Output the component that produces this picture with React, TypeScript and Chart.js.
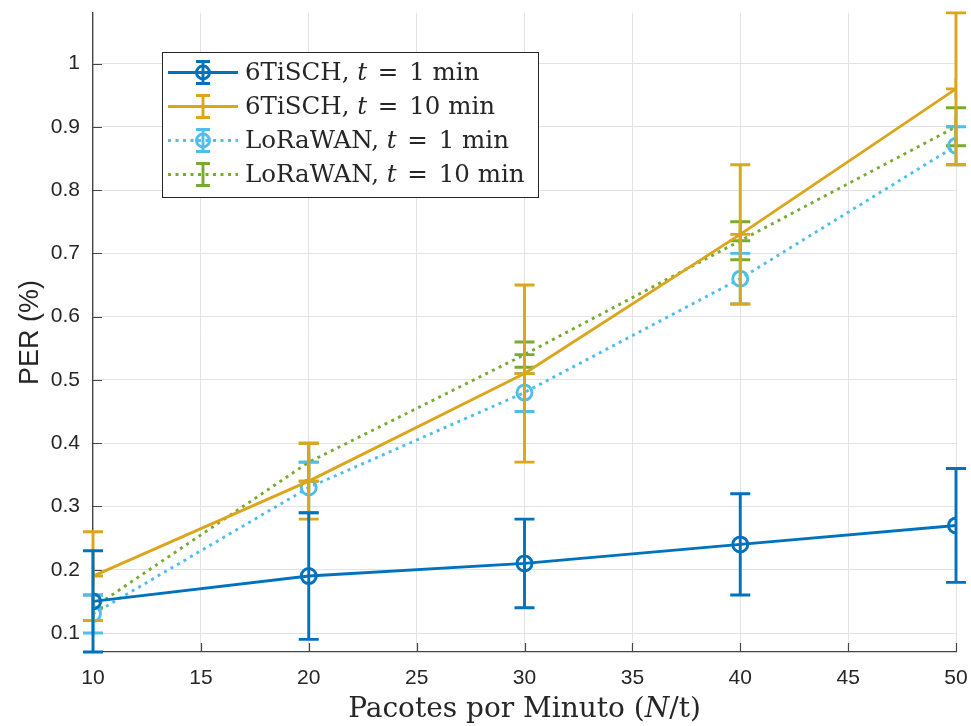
import React, { useEffect, useRef } from "react";
import { Chart, registerables } from "chart.js";

Chart.register(...registerables);

// Packets per minute (x) and packet error rate (y) with symmetric error margins
const packetsPerMinute = [10, 20, 30, 40, 50];

const tisch1Per = [0.15, 0.19, 0.21, 0.24, 0.27];
const tisch1Err = [0.08, 0.1, 0.07, 0.08, 0.09];

const tisch10Per = [0.19, 0.34, 0.51, 0.73, 0.96];
const tisch10Err = [0.07, 0.06, 0.14, 0.11, 0.12];

const lora1Per = [0.13, 0.33, 0.48, 0.66, 0.87];
const lora1Err = [0.03, 0.04, 0.03, 0.04, 0.03];

const lora10Per = [0.14, 0.37, 0.54, 0.72, 0.9];
const lora10Err = [0.02, 0.03, 0.02, 0.03, 0.03];

const seriesNames = ["6TiSCH", "6TiSCH", "LoRaWAN", "LoRaWAN"];
const windowMinutes = [1, 10, 1, 10];

const xTicks = [10, 15, 20, 25, 30, 35, 40, 45, 50];
const yTicks = [0.1, 0.2, 0.3, 0.4, 0.5, 0.6, 0.7, 0.8, 0.9, 1];
const xTickLabels = ["10", "15", "20", "25", "30", "35", "40", "45", "50"];
const yTickLabels = ["0.1", "0.2", "0.3", "0.4", "0.5", "0.6", "0.7", "0.8", "0.9", "1"];

const SANS = "'Liberation Sans', Arial, sans-serif";
const SERIF = "'DejaVu Serif', serif";
const AXIS_COLOR = "#454545";
const TEXT_COLOR = "#262626";

const palette = ["#0072BD", "#DBA51C", "#4DBEEE", "#77AC30"];
const dotted = [3, 4.5];
const STROKE = 2.9;

const toPoints = (ys: number[]) => packetsPerMinute.map((x, i) => ({ x, y: ys[i] }));

// Vertical error bars with caps, drawn right after each dataset so stacking order follows the series order
const errorBarPlugin = {
  id: "errorBars",
  afterDatasetDraw(chart: any, args: any) {
    const ds = chart.data.datasets[args.index];
    const errs: number[] | undefined = ds.errorBars;
    if (!errs) return;
    const { ctx, scales } = chart;
    const xs = scales.x;
    const ys = scales.y;
    ctx.save();
    ctx.strokeStyle = ds.borderColor;
    ctx.lineWidth = STROKE;
    ctx.setLineDash([]);
    ctx.lineCap = "butt";
    ds.data.forEach((p: any, i: number) => {
      const px = xs.getPixelForValue(p.x);
      const top = ys.getPixelForValue(p.y + errs[i]);
      const bot = ys.getPixelForValue(p.y - errs[i]);
      const cap = 10;
      ctx.beginPath();
      ctx.moveTo(px, top);
      ctx.lineTo(px, bot);
      ctx.moveTo(px - cap, top);
      ctx.lineTo(px + cap, top);
      ctx.moveTo(px - cap, bot);
      ctx.lineTo(px + cap, bot);
      ctx.stroke();
    });
    ctx.restore();
  },
};

// Inward tick marks on the left and bottom axes
const innerTicksPlugin = {
  id: "innerTicks",
  beforeDatasetsDraw(chart: any) {
    const { ctx, chartArea, scales } = chart;
    ctx.save();
    ctx.strokeStyle = AXIS_COLOR;
    ctx.lineWidth = 1.2;
    ctx.beginPath();
    xTicks.forEach((v) => {
      const px = Math.round(scales.x.getPixelForValue(v)) + 0.5;
      ctx.moveTo(px, chartArea.bottom);
      ctx.lineTo(px, chartArea.bottom - 9);
    });
    yTicks.forEach((v) => {
      const py = Math.round(scales.y.getPixelForValue(v)) + 0.5;
      ctx.moveTo(chartArea.left, py);
      ctx.lineTo(chartArea.left + 9, py);
    });
    ctx.stroke();
    ctx.restore();
  },
};

type Run = { text?: string; italic?: boolean; gap?: number };

const drawRuns = (ctx: any, runs: Run[], size: number, x: number, y: number, align: "left" | "center") => {
  const fontFor = (it?: boolean) => `${it ? "italic " : ""}${size}px ${SERIF}`;
  const widthOf = (r: Run) => {
    if (r.gap) return r.gap;
    ctx.font = fontFor(r.italic);
    return ctx.measureText(r.text || "").width;
  };
  const total = runs.reduce((s, r) => s + widthOf(r), 0);
  let cx = align === "center" ? x - total / 2 : x;
  ctx.textBaseline = "middle";
  ctx.textAlign = "left";
  runs.forEach((r) => {
    if (!r.gap) {
      ctx.font = fontFor(r.italic);
      ctx.fillText(r.text || "", cx, y);
    }
    cx += widthOf(r);
  });
};

// Legend box with error-bar icons, plus the serif x-axis title
const legendPlugin = {
  id: "boxLegend",
  afterDraw(chart: any) {
    const { ctx, chartArea } = chart;
    ctx.save();
    const bx = 162, by = 52, bw = 376, bh = 145;
    ctx.fillStyle = "#ffffff";
    ctx.fillRect(bx, by, bw, bh);
    ctx.strokeStyle = TEXT_COLOR;
    ctx.lineWidth = 1;
    ctx.strokeRect(bx + 0.5, by + 0.5, bw, bh);

    chart.data.datasets.forEach((ds: any, i: number) => {
      const cy = by + 20.5 + i * 34;
      const color = ds.borderColor;
      ctx.strokeStyle = color;
      ctx.lineWidth = STROKE;
      ctx.setLineDash(ds.borderDash || []);
      ctx.beginPath();
      ctx.moveTo(168, cy);
      ctx.lineTo(238, cy);
      ctx.stroke();
      ctx.setLineDash([]);
      const mx = 203;
      ctx.beginPath();
      ctx.moveTo(mx, cy - 11);
      ctx.lineTo(mx, cy + 11);
      ctx.moveTo(mx - 7, cy - 11);
      ctx.lineTo(mx + 7, cy - 11);
      ctx.moveTo(mx - 7, cy + 11);
      ctx.lineTo(mx + 7, cy + 11);
      ctx.stroke();
      if (ds.pointStyle === "circle") {
        ctx.beginPath();
        ctx.arc(mx, cy, 6.5, 0, Math.PI * 2);
        ctx.stroke();
      }
      ctx.fillStyle = TEXT_COLOR;
      drawRuns(
        ctx,
        [
          { text: `${seriesNames[i]}, ` },
          { text: "t", italic: true },
          { gap: 3 },
          { text: " = " },
          { gap: 3 },
          { text: `${windowMinutes[i]} min` },
        ],
        24.5,
        245,
        cy + 1,
        "left"
      );
    });

    ctx.fillStyle = TEXT_COLOR;
    drawRuns(
      ctx,
      [{ text: "Pacotes por Minuto (" }, { text: "N", italic: true }, { text: "/t)" }],
      28,
      (chartArea.left + chartArea.right) / 2,
      710,
      "center"
    );
    ctx.restore();
  },
};

export default function App() {
  const canvasRef = useRef<HTMLCanvasElement | null>(null);

  useEffect(() => {
    if (!canvasRef.current) return;
    const mk = (i: number, ys: number[], errs: number[], circle: boolean, dash: number[]) => ({
      label: `${seriesNames[i]}, t = ${windowMinutes[i]} min`,
      data: toPoints(ys),
      errorBars: errs,
      borderColor: palette[i],
      backgroundColor: palette[i],
      borderWidth: STROKE,
      borderDash: dash,
      tension: 0,
      pointStyle: circle ? "circle" : "cross",
      pointRadius: circle ? 7.5 : 10,
      pointBorderWidth: STROKE,
      pointBackgroundColor: "rgba(0,0,0,0)",
      pointBorderColor: palette[i],
      pointHoverRadius: circle ? 7.5 : 10,
    });

    const chart = new Chart(canvasRef.current, {
      type: "line",
      data: {
        datasets: [
          mk(0, tisch1Per, tisch1Err, true, []),
          mk(1, tisch10Per, tisch10Err, false, []),
          mk(2, lora1Per, lora1Err, true, dotted),
          mk(3, lora10Per, lora10Err, false, dotted),
        ] as any,
      },
      options: {
        animation: false,
        responsive: false,
        events: [],
        layout: { padding: { top: 12, right: 15, left: 0, bottom: 0 } },
        plugins: { legend: { display: false }, tooltip: { enabled: false } },
        scales: {
          x: {
            type: "linear",
            min: 10,
            max: 50,
            afterBuildTicks: (s: any) => {
              s.ticks = xTicks.map((value) => ({ value }));
            },
            afterFit: (s: any) => {
              s.height = 74;
              s.paddingLeft = 0;
              s.paddingRight = 0;
            },
            ticks: {
              callback: (_v: any, i: number) => xTickLabels[i],
              font: { family: SANS, size: 21 },
              color: TEXT_COLOR,
              padding: 14,
              maxRotation: 0,
              autoSkip: false,
            },
            grid: { color: "#e3e3e3", lineWidth: 1, drawTicks: false },
            border: { display: true, color: AXIS_COLOR, width: 1.3 },
          },
          y: {
            type: "linear",
            min: 0.07,
            max: 1.08,
            afterBuildTicks: (s: any) => {
              s.ticks = yTicks.map((value) => ({ value }));
            },
            afterFit: (s: any) => {
              s.width = 93;
              s.paddingTop = 0;
              s.paddingBottom = 0;
            },
            ticks: {
              callback: (_v: any, i: number) => yTickLabels[i],
              font: { family: SANS, size: 21 },
              color: TEXT_COLOR,
              padding: 13,
              autoSkip: false,
            },
            grid: { color: "#e3e3e3", lineWidth: 1, drawTicks: false },
            border: { display: true, color: AXIS_COLOR, width: 1.3 },
            title: {
              display: true,
              text: "PER (%)",
              font: { family: SANS, size: 27 },
              color: TEXT_COLOR,
              padding: { top: 14, bottom: 0 },
            },
          },
        },
      },
      plugins: [errorBarPlugin, innerTicksPlugin, legendPlugin],
    } as any);
    return () => chart.destroy();
  }, []);

  return (
    <div style={{ position: "fixed", left: 0, top: 0, width: 971, height: 726, background: "#fff" }}>
      <canvas ref={canvasRef} width={971} height={726} style={{ width: 971, height: 726, display: "block" }} />
    </div>
  );
}
